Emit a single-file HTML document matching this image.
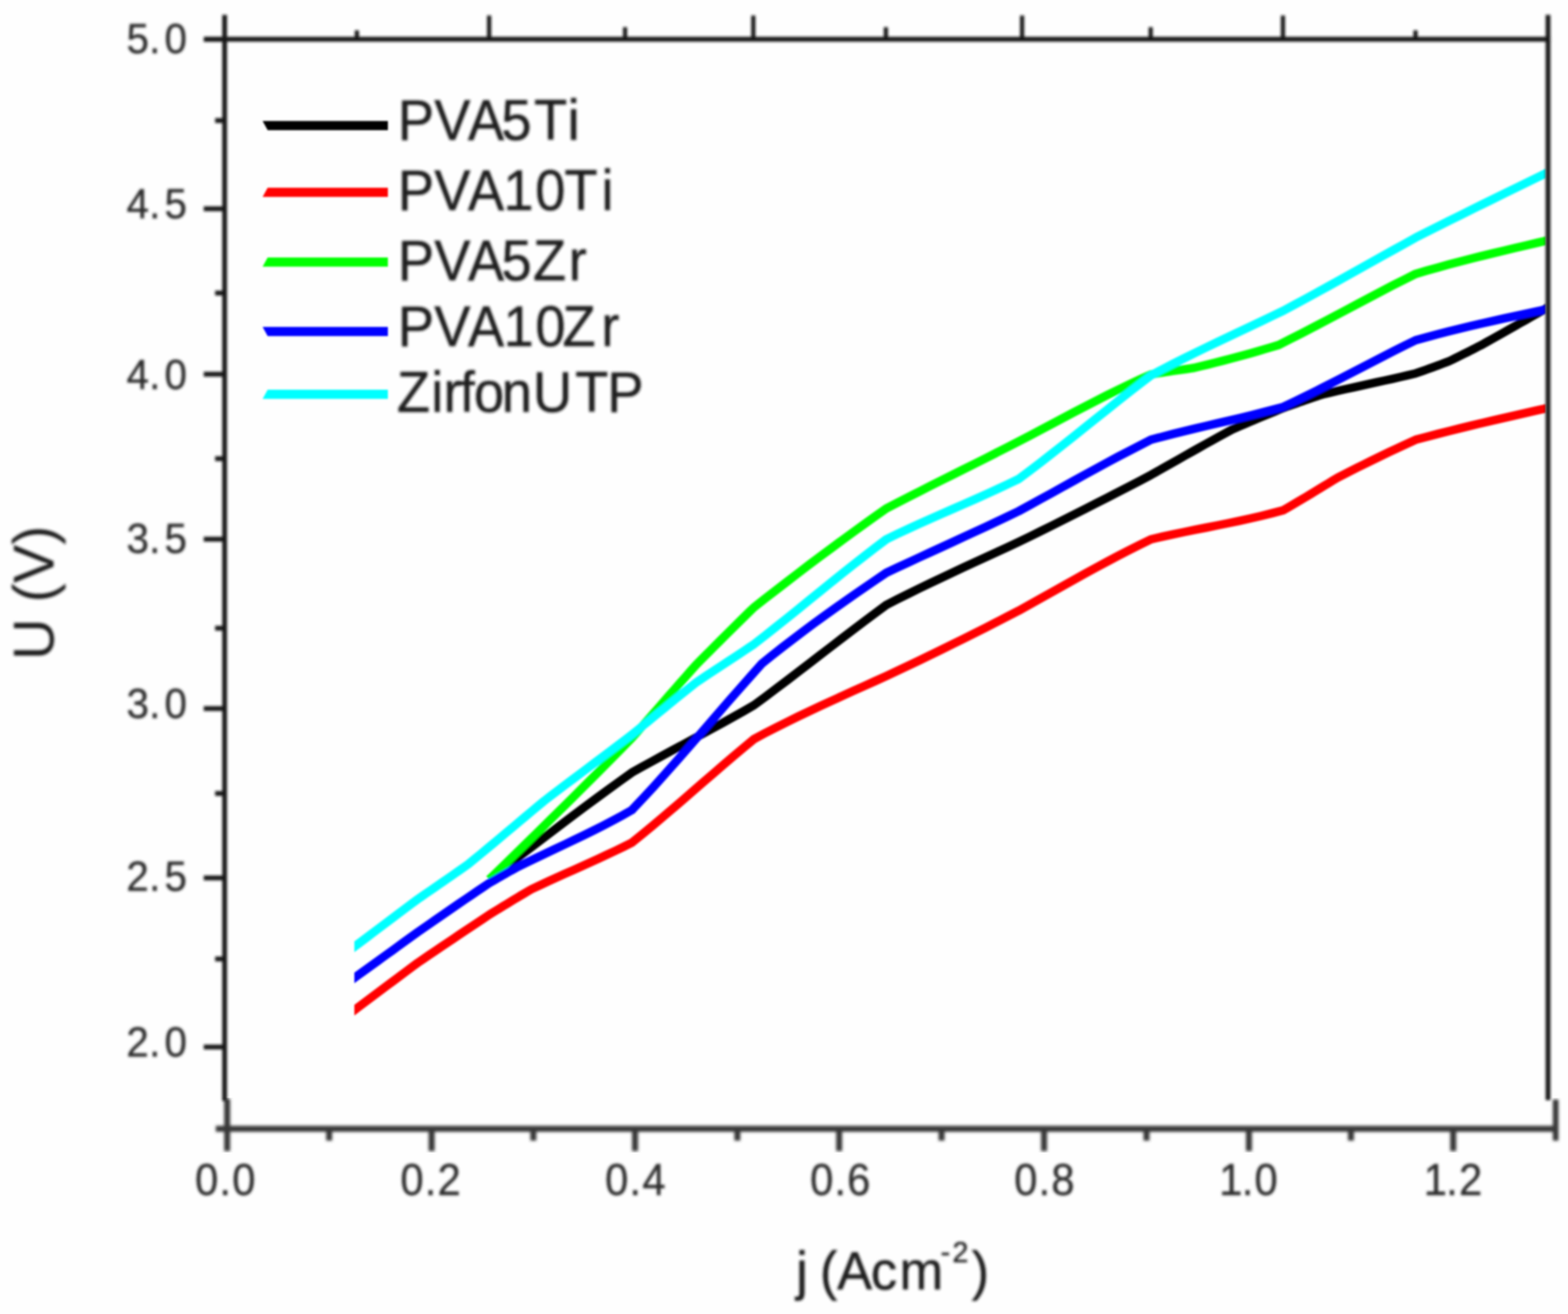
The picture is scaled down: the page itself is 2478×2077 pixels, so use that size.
<!DOCTYPE html>
<html lang="en">
<head>
<meta charset="utf-8">
<title>U (V) vs j (Acm-2)</title>
<style>
html,body{margin:0;padding:0;background:#fefefe;}
body{width:2478px;height:2077px;overflow:hidden;}
svg{display:block;font-family:"Liberation Sans",Arial,Helvetica,sans-serif;font-kerning:none;}
</style>
</head>
<body>
<svg width="2478" height="2077" viewBox="0 0 2478 2077">
<defs>
<filter id="b" x="-2%" y="-2%" width="104%" height="104%"><feGaussianBlur stdDeviation="1.9"/></filter>
<filter id="bl" x="-2%" y="-2%" width="104%" height="104%"><feGaussianBlur stdDeviation="1.5"/></filter>
<filter id="ba" x="-2%" y="-2%" width="104%" height="104%"><feGaussianBlur stdDeviation="1.9"/></filter>
<filter id="bb" x="-2%" y="-2%" width="104%" height="104%"><feGaussianBlur stdDeviation="2.4"/></filter>
<clipPath id="plot"><rect x="560" y="62.0" width="1882.9" height="1722.3"/></clipPath>
</defs>
<rect x="0" y="0" width="2478" height="2077" fill="#fefefe"/>
<g filter="url(#bl)">
<g id="curves" clip-path="url(#plot)">
<path d="M773.3,1390.2 L792.1,1375.8 L810.8,1361.3 L829.6,1346.9 L848.4,1332.6 L867.1,1318.3 L885.9,1304.1 L904.7,1289.9 L923.4,1275.9 L942.2,1262.0 L961.0,1248.3 L979.8,1234.6 L998.5,1221.2 L1014.6,1212.2 L1030.7,1203.3 L1046.8,1194.5 L1062.9,1185.8 L1079.0,1177.1 L1095.0,1168.4 L1111.1,1159.6 L1127.2,1150.9 L1143.3,1142.0 L1159.4,1133.0 L1175.5,1124.0 L1191.6,1114.7 L1209.0,1101.8 L1226.4,1088.7 L1243.9,1075.5 L1261.3,1062.2 L1278.7,1048.8 L1296.1,1035.4 L1313.6,1022.0 L1331.0,1008.6 L1348.4,995.4 L1365.9,982.2 L1383.3,969.1 L1400.7,956.3 L1418.1,947.3 L1435.6,938.6 L1453.0,930.0 L1470.4,921.6 L1487.9,913.3 L1505.3,905.1 L1522.7,896.9 L1540.1,888.9 L1557.6,880.8 L1575.0,872.8 L1592.4,864.8 L1609.9,856.7 L1627.3,848.2 L1644.7,839.6 L1662.2,831.0 L1679.6,822.3 L1697.0,813.5 L1714.4,804.7 L1731.9,795.8 L1749.3,786.9 L1766.7,777.9 L1784.2,768.9 L1801.6,759.9 L1819.0,750.7 L1829.7,744.7 L1840.3,738.7 L1851.0,732.6 L1861.7,726.6 L1872.3,720.5 L1883.0,714.5 L1893.7,708.5 L1904.3,702.5 L1915.0,696.6 L1925.7,690.7 L1936.3,684.8 L1947.0,679.0 L1953.8,676.1 L1960.5,673.1 L1967.3,670.2 L1974.1,667.3 L1980.8,664.5 L1987.6,661.6 L1994.3,658.8 L2001.1,656.0 L2007.9,653.2 L2014.6,650.4 L2021.4,647.6 L2028.2,644.8 L2033.3,643.0 L2038.5,641.1 L2043.6,639.3 L2048.8,637.5 L2053.9,635.7 L2059.1,634.0 L2064.2,632.2 L2069.4,630.4 L2074.5,628.7 L2079.7,626.9 L2084.8,625.2 L2090.0,623.5 L2102.3,620.6 L2114.5,617.7 L2126.8,615.0 L2139.1,612.3 L2151.4,609.6 L2163.6,606.9 L2175.9,604.2 L2188.2,601.5 L2200.5,598.8 L2212.7,596.0 L2225.0,593.1 L2237.3,590.2 L2241.7,588.7 L2246.1,587.1 L2250.5,585.6 L2254.9,584.0 L2259.3,582.4 L2263.6,580.9 L2268.0,579.2 L2272.4,577.6 L2276.8,576.0 L2281.2,574.3 L2285.6,572.7 L2290.0,571.0 L2294.2,569.0 L2298.3,566.9 L2302.5,564.9 L2306.7,562.8 L2310.8,560.7 L2315.0,558.7 L2319.2,556.6 L2323.3,554.5 L2327.5,552.4 L2331.7,550.2 L2335.8,548.1 L2340.0,546.0 L2348.9,541.0 L2357.7,536.1 L2366.6,531.1 L2375.5,526.1 L2384.3,521.1 L2393.2,516.1 L2402.1,511.0 L2411.0,506.0 L2419.8,501.0 L2428.7,495.9 L2437.6,490.9 L2446.4,485.8" fill="none" stroke="#000000" stroke-width="13.5" stroke-linejoin="round" stroke-linecap="butt"/>
<path d="M552.1,1602.6 L553.1,1601.9 L554.1,1601.1 L555.1,1600.4 L556.1,1599.6 L557.1,1598.9 L558.1,1598.1 L559.1,1597.4 L560.1,1596.6 L561.1,1595.9 L562.1,1595.1 L563.1,1594.4 L564.1,1593.7 L572.1,1587.7 L580.1,1581.7 L588.1,1575.7 L596.1,1569.7 L604.1,1563.7 L612.1,1557.7 L620.1,1551.8 L628.0,1545.8 L636.0,1539.8 L644.0,1533.9 L652.0,1527.9 L660.0,1522.0 L669.4,1515.6 L678.8,1509.2 L688.2,1502.8 L697.7,1496.4 L707.1,1490.1 L716.5,1483.8 L725.9,1477.4 L735.3,1471.1 L744.8,1464.8 L754.2,1458.6 L763.6,1452.3 L773.0,1446.0 L778.6,1442.6 L784.2,1439.1 L789.8,1435.7 L795.3,1432.3 L800.9,1428.9 L806.5,1425.5 L812.1,1422.1 L817.7,1418.7 L823.2,1415.4 L828.8,1412.1 L834.4,1408.8 L840.0,1405.5 L853.2,1399.3 L866.4,1393.1 L879.6,1387.1 L892.8,1381.2 L906.0,1375.3 L919.3,1369.3 L932.5,1363.4 L945.7,1357.4 L958.9,1351.2 L972.1,1345.0 L985.3,1338.6 L998.5,1331.9 L1014.6,1318.9 L1030.7,1305.7 L1046.8,1292.1 L1062.9,1278.4 L1079.0,1264.6 L1095.0,1250.7 L1111.1,1236.7 L1127.2,1222.8 L1143.3,1208.9 L1159.4,1195.1 L1175.5,1181.6 L1191.6,1168.2 L1209.0,1158.9 L1226.4,1149.9 L1243.9,1141.2 L1261.3,1132.6 L1278.7,1124.3 L1296.1,1116.1 L1313.6,1108.1 L1331.0,1100.1 L1348.4,1092.2 L1365.9,1084.4 L1383.3,1076.5 L1400.7,1068.6 L1418.1,1060.4 L1435.6,1052.2 L1453.0,1043.8 L1470.4,1035.4 L1487.9,1026.9 L1505.3,1018.3 L1522.7,1009.7 L1540.1,1001.0 L1557.6,992.2 L1575.0,983.3 L1592.4,974.3 L1609.9,965.3 L1627.3,955.6 L1644.7,945.8 L1662.2,936.1 L1679.6,926.3 L1697.0,916.6 L1714.4,906.9 L1731.9,897.4 L1749.3,888.0 L1766.7,878.8 L1784.2,869.8 L1801.6,861.0 L1819.0,852.5 L1836.4,848.4 L1853.9,844.6 L1871.3,841.0 L1888.7,837.4 L1906.2,834.0 L1923.6,830.5 L1941.0,827.0 L1958.4,823.4 L1975.9,819.5 L1993.3,815.5 L2010.7,811.1 L2028.2,806.4 L2035.3,802.3 L2042.5,798.1 L2049.6,793.9 L2056.8,789.7 L2063.9,785.4 L2071.1,781.1 L2078.2,776.7 L2085.4,772.4 L2092.5,768.0 L2099.7,763.7 L2106.8,759.3 L2114.0,755.0 L2124.3,749.7 L2134.5,744.5 L2144.8,739.3 L2155.1,734.2 L2165.4,729.1 L2175.6,724.1 L2185.9,719.1 L2196.2,714.2 L2206.5,709.4 L2216.7,704.6 L2227.0,699.8 L2237.3,695.1 L2254.7,690.4 L2272.2,685.9 L2289.6,681.5 L2307.0,677.1 L2324.4,672.9 L2341.9,668.7 L2359.3,664.6 L2376.7,660.6 L2394.2,656.6 L2411.6,652.6 L2429.0,648.7 L2446.4,644.8" fill="none" stroke="#ff0000" stroke-width="13.5" stroke-linejoin="round" stroke-linecap="butt"/>
<path d="M773.3,1390.2 L792.1,1371.9 L810.8,1353.5 L829.6,1335.2 L848.4,1316.8 L867.1,1298.3 L885.9,1279.8 L904.7,1261.2 L923.4,1242.5 L942.2,1223.7 L961.0,1204.8 L979.8,1185.8 L998.5,1166.6 L1007.0,1157.0 L1015.4,1147.4 L1023.9,1137.7 L1032.3,1128.1 L1040.8,1118.4 L1049.3,1108.7 L1057.7,1099.0 L1066.2,1089.4 L1074.6,1079.7 L1083.1,1070.1 L1091.5,1060.5 L1100.0,1051.0 L1107.6,1043.3 L1115.3,1035.5 L1122.9,1027.9 L1130.5,1020.2 L1138.2,1012.6 L1145.8,1005.0 L1153.4,997.4 L1161.1,989.9 L1168.7,982.4 L1176.3,974.9 L1183.9,967.4 L1191.6,960.0 L1209.0,946.3 L1226.4,932.8 L1243.9,919.3 L1261.3,906.0 L1278.7,892.7 L1296.1,879.6 L1313.6,866.7 L1331.0,853.8 L1348.4,841.1 L1365.9,828.5 L1383.3,816.1 L1400.7,803.7 L1418.1,794.7 L1435.6,785.7 L1453.0,776.9 L1470.4,768.1 L1487.9,759.3 L1505.3,750.6 L1522.7,741.9 L1540.1,733.2 L1557.6,724.5 L1575.0,715.6 L1592.4,706.8 L1609.9,697.8 L1627.3,688.7 L1644.7,679.5 L1662.2,670.2 L1679.6,661.0 L1697.0,651.8 L1714.4,642.7 L1731.9,633.7 L1749.3,624.8 L1766.7,616.2 L1784.2,607.8 L1801.6,599.6 L1819.0,591.8 L1824.7,590.8 L1830.3,589.9 L1836.0,589.0 L1841.7,588.1 L1847.3,587.3 L1853.0,586.4 L1858.7,585.6 L1864.3,584.8 L1870.0,584.0 L1875.7,583.2 L1881.3,582.3 L1887.0,581.5 L1898.2,578.8 L1909.3,576.1 L1920.5,573.3 L1931.7,570.4 L1942.8,567.5 L1954.0,564.5 L1965.2,561.5 L1976.3,558.4 L1987.5,555.2 L1998.7,551.9 L2009.8,548.6 L2021.0,545.2 L2039.0,536.1 L2057.0,526.9 L2075.1,517.6 L2093.1,508.1 L2111.1,498.6 L2129.1,489.1 L2147.2,479.5 L2165.2,470.0 L2183.2,460.5 L2201.2,451.1 L2219.3,441.9 L2237.3,432.9 L2254.7,427.8 L2272.2,422.9 L2289.6,418.1 L2307.0,413.5 L2324.4,409.0 L2341.9,404.6 L2359.3,400.4 L2376.7,396.2 L2394.2,392.0 L2411.6,388.0 L2429.0,383.9 L2446.4,379.9" fill="none" stroke="#00ff00" stroke-width="13.5" stroke-linejoin="round" stroke-linecap="butt"/>
<path d="M552.1,1551.5 L553.1,1550.7 L554.1,1550.0 L555.1,1549.3 L556.1,1548.6 L557.1,1547.9 L558.1,1547.1 L559.1,1546.4 L560.1,1545.7 L561.1,1545.0 L562.1,1544.2 L563.1,1543.5 L564.1,1542.8 L572.1,1537.0 L580.1,1531.2 L588.1,1525.5 L596.1,1519.7 L604.1,1513.9 L612.1,1508.1 L620.1,1502.4 L628.0,1496.6 L636.0,1490.8 L644.0,1485.0 L652.0,1479.3 L660.0,1473.5 L669.4,1467.0 L678.8,1460.4 L688.2,1453.9 L697.7,1447.4 L707.1,1440.9 L716.5,1434.4 L725.9,1427.9 L735.3,1421.5 L744.8,1415.1 L754.2,1408.7 L763.6,1402.3 L773.0,1396.0 L776.6,1393.9 L780.2,1391.8 L783.8,1389.8 L787.3,1387.7 L790.9,1385.6 L794.5,1383.6 L798.1,1381.6 L801.7,1379.5 L805.2,1377.5 L808.8,1375.5 L812.4,1373.5 L816.0,1371.5 L831.2,1364.0 L846.4,1356.6 L861.6,1349.4 L876.8,1342.2 L892.0,1335.0 L907.3,1327.7 L922.5,1320.4 L937.7,1312.9 L952.9,1305.2 L968.1,1297.3 L983.3,1289.1 L998.5,1280.5 L1015.6,1262.4 L1032.8,1243.8 L1049.9,1224.8 L1067.0,1205.5 L1084.1,1186.1 L1101.3,1166.4 L1118.4,1146.7 L1135.5,1126.9 L1152.6,1107.2 L1169.8,1087.6 L1186.9,1068.2 L1204.0,1049.0 L1220.4,1035.8 L1236.8,1022.9 L1253.2,1010.3 L1269.6,997.9 L1286.0,985.7 L1302.4,973.8 L1318.8,962.0 L1335.1,950.4 L1351.5,939.0 L1367.9,927.7 L1384.3,916.5 L1400.7,905.4 L1418.1,897.2 L1435.6,889.1 L1453.0,881.0 L1470.4,873.0 L1487.9,865.0 L1505.3,857.0 L1522.7,848.9 L1540.1,840.9 L1557.6,832.8 L1575.0,824.6 L1592.4,816.3 L1609.9,808.0 L1627.3,798.5 L1644.7,788.9 L1662.2,779.3 L1679.6,769.7 L1697.0,760.0 L1714.4,750.4 L1731.9,740.8 L1749.3,731.4 L1766.7,722.0 L1784.2,712.9 L1801.6,703.9 L1819.0,695.1 L1836.4,690.4 L1853.9,685.9 L1871.3,681.6 L1888.7,677.4 L1906.2,673.2 L1923.6,669.2 L1941.0,665.1 L1958.4,661.0 L1975.9,656.8 L1993.3,652.4 L2010.7,647.9 L2028.2,643.2 L2045.6,634.9 L2063.0,626.4 L2080.4,617.7 L2097.9,608.8 L2115.3,599.9 L2132.7,590.9 L2150.2,581.9 L2167.6,572.9 L2185.0,563.9 L2202.4,555.0 L2219.9,546.3 L2237.3,537.8 L2254.7,532.9 L2272.2,528.3 L2289.6,523.8 L2307.0,519.5 L2324.4,515.3 L2341.9,511.2 L2359.3,507.3 L2376.7,503.4 L2394.2,499.6 L2411.6,495.9 L2429.0,492.2 L2446.4,488.5" fill="none" stroke="#0000ff" stroke-width="13.5" stroke-linejoin="round" stroke-linecap="butt"/>
<path d="M552.1,1502.5 L553.1,1501.8 L554.1,1501.0 L555.1,1500.3 L556.1,1499.5 L557.1,1498.8 L558.1,1498.0 L559.1,1497.3 L560.1,1496.5 L561.1,1495.8 L562.1,1495.0 L563.1,1494.3 L564.1,1493.5 L572.1,1487.5 L580.1,1481.5 L588.1,1475.4 L596.1,1469.4 L604.1,1463.4 L612.1,1457.4 L620.1,1451.3 L628.0,1445.3 L636.0,1439.3 L644.0,1433.4 L652.0,1427.4 L660.0,1421.5 L666.7,1416.9 L673.3,1412.3 L680.0,1407.7 L686.7,1403.1 L693.3,1398.5 L700.0,1393.9 L706.7,1389.3 L713.3,1384.7 L720.0,1380.0 L726.7,1375.4 L733.3,1370.7 L740.0,1366.0 L750.0,1357.8 L760.0,1349.6 L770.0,1341.3 L780.0,1333.0 L790.0,1324.6 L800.0,1316.2 L810.0,1307.8 L820.0,1299.4 L830.0,1291.0 L840.0,1282.6 L850.0,1274.3 L860.0,1266.0 L871.5,1257.2 L883.1,1248.4 L894.6,1239.7 L906.2,1231.0 L917.7,1222.3 L929.3,1213.6 L940.8,1205.0 L952.3,1196.3 L963.9,1187.6 L975.4,1178.9 L987.0,1170.2 L998.5,1161.3 L1007.0,1154.5 L1015.4,1147.6 L1023.9,1140.7 L1032.3,1133.8 L1040.8,1126.8 L1049.3,1119.9 L1057.7,1113.0 L1066.2,1106.1 L1074.6,1099.3 L1083.1,1092.5 L1091.5,1085.7 L1100.0,1079.0 L1107.6,1073.9 L1115.3,1068.7 L1122.9,1063.7 L1130.5,1058.6 L1138.2,1053.6 L1145.8,1048.6 L1153.4,1043.6 L1161.1,1038.6 L1168.7,1033.6 L1176.3,1028.5 L1183.9,1023.4 L1191.6,1018.3 L1209.0,1004.7 L1226.4,990.9 L1243.9,977.0 L1261.3,962.9 L1278.7,948.8 L1296.1,934.7 L1313.6,920.6 L1331.0,906.6 L1348.4,892.8 L1365.9,879.1 L1383.3,865.6 L1400.7,852.5 L1418.1,844.0 L1435.6,835.8 L1453.0,827.9 L1470.4,820.1 L1487.9,812.4 L1505.3,804.8 L1522.7,797.1 L1540.1,789.5 L1557.6,781.7 L1575.0,773.7 L1592.4,765.5 L1609.9,757.1 L1627.3,744.1 L1644.7,730.8 L1662.2,717.2 L1679.6,703.5 L1697.0,689.7 L1714.4,675.8 L1731.9,661.8 L1749.3,647.9 L1766.7,634.0 L1784.2,620.3 L1801.6,606.7 L1819.0,593.4 L1836.4,584.1 L1853.9,575.1 L1871.3,566.4 L1888.7,557.7 L1906.2,549.2 L1923.6,540.9 L1941.0,532.6 L1958.4,524.3 L1975.9,516.1 L1993.3,507.8 L2010.7,499.5 L2028.2,491.1 L2045.6,481.8 L2063.0,472.4 L2080.4,462.8 L2097.9,453.3 L2115.3,443.6 L2132.7,433.9 L2150.2,424.2 L2167.6,414.4 L2185.0,404.7 L2202.4,395.0 L2219.9,385.3 L2237.3,375.6 L2254.7,366.8 L2272.2,358.0 L2289.6,349.3 L2307.0,340.7 L2324.4,332.0 L2341.9,323.4 L2359.3,314.9 L2376.7,306.3 L2394.2,297.8 L2411.6,289.3 L2429.0,280.8 L2446.4,272.3" fill="none" stroke="#00ffff" stroke-width="13.5" stroke-linejoin="round" stroke-linecap="butt"/>
</g>
<g id="legend-lines">
<polygon points="415.0,191.3 613.0,191.3 613.0,205.8 423.0,205.8" fill="#000000"/>
<polygon points="423.0,296.8 613.0,296.8 613.0,311.2 415.0,311.2" fill="#ff0000"/>
<polygon points="423.0,406.9 613.0,406.9 613.0,421.4 415.0,421.4" fill="#00ff00"/>
<polygon points="415.0,516.8 613.0,516.8 613.0,531.2 423.0,531.2" fill="#0000ff"/>
<polygon points="423.0,616.1 613.0,616.1 613.0,630.6 415.0,630.6" fill="#00ffff"/>
</g>
</g>
<g id="axes" filter="url(#ba)">
<line x1="355.0" y1="23.5" x2="355.0" y2="1740.0" stroke="#161616" stroke-width="7.5"/>
<line x1="2446.4" y1="23.5" x2="2446.4" y2="1739.0" stroke="#161616" stroke-width="7.5"/>
<line x1="323.0" y1="62.0" x2="2450.2" y2="62.0" stroke="#161616" stroke-width="7.5"/>
<line x1="322.0" y1="62.3" x2="355.0" y2="62.3" stroke="#161616" stroke-width="7.5"/>
<line x1="322.0" y1="330.0" x2="355.0" y2="330.0" stroke="#161616" stroke-width="7.5"/>
<line x1="322.0" y1="591.6" x2="355.0" y2="591.6" stroke="#161616" stroke-width="7.5"/>
<line x1="322.0" y1="852.3" x2="355.0" y2="852.3" stroke="#161616" stroke-width="7.5"/>
<line x1="322.0" y1="1120.0" x2="355.0" y2="1120.0" stroke="#161616" stroke-width="7.5"/>
<line x1="322.0" y1="1387.8" x2="355.0" y2="1387.8" stroke="#161616" stroke-width="7.5"/>
<line x1="322.0" y1="1654.9" x2="355.0" y2="1654.9" stroke="#161616" stroke-width="7.5"/>
<line x1="340.0" y1="190.5" x2="355.0" y2="190.5" stroke="#161616" stroke-width="7.5"/>
<line x1="340.0" y1="463.2" x2="355.0" y2="463.2" stroke="#161616" stroke-width="7.5"/>
<line x1="340.0" y1="725.0" x2="355.0" y2="725.0" stroke="#161616" stroke-width="7.5"/>
<line x1="340.0" y1="993.0" x2="355.0" y2="993.0" stroke="#161616" stroke-width="7.5"/>
<line x1="340.0" y1="1254.2" x2="355.0" y2="1254.2" stroke="#161616" stroke-width="7.5"/>
<line x1="340.0" y1="1515.8" x2="355.0" y2="1515.8" stroke="#161616" stroke-width="7.5"/>
<line x1="773.0" y1="24.5" x2="773.0" y2="62.0" stroke="#161616" stroke-width="6.5"/>
<line x1="1190.5" y1="24.5" x2="1190.5" y2="62.0" stroke="#161616" stroke-width="6.5"/>
<line x1="1615.3" y1="24.5" x2="1615.3" y2="62.0" stroke="#161616" stroke-width="6.5"/>
<line x1="2027.5" y1="24.5" x2="2027.5" y2="62.0" stroke="#161616" stroke-width="6.5"/>
<line x1="564.0" y1="48.0" x2="564.0" y2="62.0" stroke="#161616" stroke-width="6.5"/>
<line x1="987.8" y1="43.0" x2="987.8" y2="62.0" stroke="#161616" stroke-width="6.5"/>
<line x1="1400.0" y1="43.0" x2="1400.0" y2="62.0" stroke="#161616" stroke-width="6.5"/>
<line x1="1818.5" y1="43.0" x2="1818.5" y2="62.0" stroke="#161616" stroke-width="6.5"/>
<line x1="2237.0" y1="48.0" x2="2237.0" y2="62.0" stroke="#161616" stroke-width="6.5"/>
</g>
<g id="x-axis" filter="url(#bb)" style="mix-blend-mode:multiply">
<line x1="341.0" y1="1784.3" x2="2463.0" y2="1784.3" stroke="#383838" stroke-width="9.6"/>
<line x1="359.0" y1="1737.0" x2="359.0" y2="1819.5" stroke="#383838" stroke-width="9.5"/>
<line x1="682.1" y1="1784.3" x2="682.1" y2="1819.5" stroke="#383838" stroke-width="9.5"/>
<line x1="1003.6" y1="1784.3" x2="1003.6" y2="1819.5" stroke="#383838" stroke-width="9.5"/>
<line x1="1326.2" y1="1784.3" x2="1326.2" y2="1819.5" stroke="#383838" stroke-width="9.5"/>
<line x1="1650.0" y1="1784.3" x2="1650.0" y2="1819.5" stroke="#383838" stroke-width="9.5"/>
<line x1="1973.8" y1="1784.3" x2="1973.8" y2="1819.5" stroke="#383838" stroke-width="9.5"/>
<line x1="2296.6" y1="1784.3" x2="2296.6" y2="1819.5" stroke="#383838" stroke-width="9.5"/>
<line x1="520.2" y1="1784.3" x2="520.2" y2="1803.0" stroke="#383838" stroke-width="9.5"/>
<line x1="842.9" y1="1784.3" x2="842.9" y2="1803.0" stroke="#383838" stroke-width="9.5"/>
<line x1="1165.3" y1="1784.3" x2="1165.3" y2="1803.0" stroke="#383838" stroke-width="9.5"/>
<line x1="1488.0" y1="1784.3" x2="1488.0" y2="1803.0" stroke="#383838" stroke-width="9.5"/>
<line x1="1811.9" y1="1784.3" x2="1811.9" y2="1803.0" stroke="#383838" stroke-width="9.5"/>
<line x1="2135.0" y1="1784.3" x2="2135.0" y2="1803.0" stroke="#383838" stroke-width="9.5"/>
<line x1="2458.5" y1="1738.0" x2="2458.5" y2="1803.0" stroke="#383838" stroke-width="9"/>
</g>
<g filter="url(#b)">
<g id="labels">
<text transform="translate(0,221.3) scale(0.943,1)" x="666.7 727.7 784.1 840.1 895.0 951.3" font-size="91.0" fill="#1a1a1a" stroke="#1a1a1a" stroke-width="0.6">PVA5Ti</text>
<text transform="translate(0,331.6) scale(0.943,1)" x="666.7 727.7 784.1 843.5 896.8 945.8 1007.9" font-size="91.0" fill="#1a1a1a" stroke="#1a1a1a" stroke-width="0.6">PVA10Ti</text>
<text transform="translate(0,443.0) scale(0.943,1)" x="666.7 727.7 784.1 840.3 893.3 953.1" font-size="91.0" fill="#1a1a1a" stroke="#1a1a1a" stroke-width="0.6">PVA5Zr</text>
<text transform="translate(0,547.0) scale(0.943,1)" x="666.7 727.7 784.1 843.9 897.1 942.8 1007.6" font-size="91.0" fill="#1a1a1a" stroke="#1a1a1a" stroke-width="0.6">PVA10Zr</text>
<text transform="translate(0,650.6) scale(0.943,1)" x="665.1 722.8 743.3 770.3 794.2 840.9 893.3 964.0 1017.8" font-size="91.0" fill="#1a1a1a" stroke="#1a1a1a" stroke-width="0.6">ZirfonUTP</text>
<text transform="translate(0,83.9) scale(0.95,1)" x="210.4 248.2 273.6" font-size="67" fill="#2b2b2b" stroke="#2b2b2b" stroke-width="0.5">5.0</text>
<text transform="translate(0,345.2) scale(0.95,1)" x="210.5 248.2 273.6" font-size="67" fill="#2b2b2b" stroke="#2b2b2b" stroke-width="0.5">4.5</text>
<text transform="translate(0,615.1) scale(0.95,1)" x="210.5 248.2 273.6" font-size="67" fill="#2b2b2b" stroke="#2b2b2b" stroke-width="0.5">4.0</text>
<text transform="translate(0,874.0) scale(0.95,1)" x="210.5 248.2 273.6" font-size="67" fill="#2b2b2b" stroke="#2b2b2b" stroke-width="0.5">3.5</text>
<text transform="translate(0,1135.4) scale(0.95,1)" x="210.5 248.2 273.6" font-size="67" fill="#2b2b2b" stroke="#2b2b2b" stroke-width="0.5">3.0</text>
<text transform="translate(0,1408.4) scale(0.95,1)" x="210.3 248.2 273.6" font-size="67" fill="#2b2b2b" stroke="#2b2b2b" stroke-width="0.5">2.5</text>
<text transform="translate(0,1670.0) scale(0.95,1)" x="210.3 248.2 273.6" font-size="67" fill="#2b2b2b" stroke="#2b2b2b" stroke-width="0.5">2.0</text>
<text transform="translate(0,1889.3) scale(0.942,1)" x="327.2 368.2 389.7" font-size="70" fill="#2b2b2b" stroke="#2b2b2b" stroke-width="0.5">0.0</text>
<text transform="translate(0,1889.3) scale(0.942,1)" x="671.6 712.6 734.0" font-size="70" fill="#2b2b2b" stroke="#2b2b2b" stroke-width="0.5">0.2</text>
<text transform="translate(0,1889.3) scale(0.942,1)" x="1015.1 1056.1 1077.8" font-size="70" fill="#2b2b2b" stroke="#2b2b2b" stroke-width="0.5">0.4</text>
<text transform="translate(0,1889.3) scale(0.942,1)" x="1359.1 1400.0 1421.3" font-size="70" fill="#2b2b2b" stroke="#2b2b2b" stroke-width="0.5">0.6</text>
<text transform="translate(0,1889.3) scale(0.942,1)" x="1701.4 1742.4 1763.9" font-size="70" fill="#2b2b2b" stroke="#2b2b2b" stroke-width="0.5">0.8</text>
<text transform="translate(0,1889.3) scale(0.942,1)" x="2045.5 2083.3 2104.7" font-size="70" fill="#2b2b2b" stroke="#2b2b2b" stroke-width="0.5">1.0</text>
<text transform="translate(0,1889.3) scale(0.942,1)" x="2388.5 2426.3 2447.7" font-size="70" fill="#2b2b2b" stroke="#2b2b2b" stroke-width="0.5">1.2</text>
<text transform="translate(84.5,937.0) rotate(-90)" font-size="91" fill="#1a1a1a" text-anchor="middle">U (V)</text>
<text transform="translate(0,2038.0) scale(0.97,1)" x="1297.2 1316.2 1335.8 1363.9 1418.8 1465.4" font-size="85.5" fill="#1a1a1a" stroke="#1a1a1a" stroke-width="0.6">j (Acm<tspan x="1532.5 1551.9" y="-43.5" font-size="46.5">-2</tspan><tspan x="1583.0" y="0">)</tspan></text>
</g>
</g>
</svg>
</body>
</html>
